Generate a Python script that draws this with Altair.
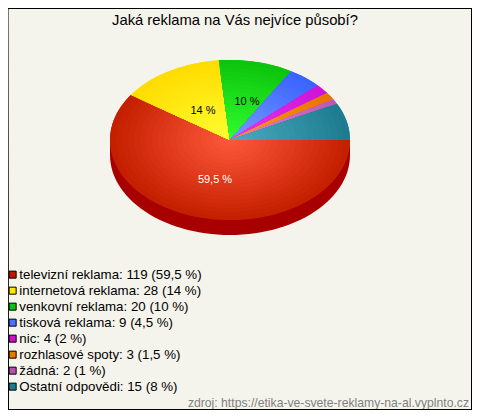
import math
import altair as alt
import pandas as pd

labels = ["televizní reklama: 119 (59,5 %)", "internetová reklama: 28 (14 %)", "venkovní reklama: 20 (10 %)",
          "tisková reklama: 9 (4,5 %)", "nic: 4 (2 %)", "rozhlasové spoty: 3 (1,5 %)", "žádná: 2 (1 %)",
          "Ostatní odpovědi: 15 (8 %)"]
counts = [119, 28, 20, 9, 4, 3, 2, 15]
legend_colors = ["#c01800", "#ffe800", "#10c010", "#4d70ff", "#cc10cc", "#e87800", "#b850b0", "#1f7a90"]
center_colors = ["#ff5a3c", "#ffff33", "#33ff33", "#7a9cff", "#f033f0", "#ff9c22", "#e088d0", "#4cacc0"]
edge_colors = ["#c42000", "#ffdc00", "#0cc40c", "#3a64ff", "#cc14d8", "#e87400", "#bc58b4", "#1e7c90"]
side_color = "#a80000"
bg = "#f5f4ec"

CX, CY, RX, RY, DEPTH = 230, 140, 120, 80, 15
RINGS = 20


def hex_mix(a, b, t):
    pa = [int(a[i:i + 2], 16) for i in (1, 3, 5)]
    pb = [int(b[i:i + 2], 16) for i in (1, 3, 5)]
    return "#%02x%02x%02x" % tuple(round(x + (y - x) * t) for x, y in zip(pa, pb))


total = sum(counts)
flat, rings = [], []
start = 0.0
for i, c in enumerate(counts):
    sweep = c / total * 2 * math.pi
    n = max(2, int(sweep / math.radians(2.5)))
    angs = [start + sweep * k / n for k in range(n + 1)]
    flat.append({"key": labels[i], "o": 0, "x": CX, "y": CY})
    for k, a in enumerate(angs):
        flat.append({"key": labels[i], "o": k + 1, "x": CX + RX * math.cos(a), "y": CY + RY * math.sin(a)})
    for r in range(RINGS, 0, -1):
        f = r / RINGS
        col = hex_mix(center_colors[i], edge_colors[i], f)
        rid = f"{i}-{RINGS - r:02d}"
        rings.append({"rid": rid, "col": col, "o": 0, "x": CX, "y": CY})
        for k, a in enumerate(angs):
            rings.append({"rid": rid, "col": col, "o": k + 1, "x": CX + RX * f * math.cos(a), "y": CY + RY * f * math.sin(a)})
    start += sweep

side = []
for k in range(0, 181, 3):
    a = math.radians(k)
    side.append({"o": k, "x": CX + RX * math.cos(a), "y": CY + RY * math.sin(a) + DEPTH})
side.append({"o": 181, "x": CX - RX, "y": CY})
side.append({"o": 182, "x": CX + RX, "y": CY})

pie_labels = pd.DataFrame({"t": ["59,5 %", "14 %", "10 %"], "x": [215, 203, 247], "y": [180, 111, 102],
                           "c": ["#ffffff", "#000000", "#000000"]})

X = alt.X("x:Q", axis=None, scale=alt.Scale(domain=[8, 472], nice=False, zero=False))
Y = alt.Y("y:Q", axis=None, scale=alt.Scale(domain=[410, 38], nice=False, zero=False))
FONT = "Liberation Sans"

side_layer = alt.Chart(pd.DataFrame(side)).mark_line(filled=True, fill=side_color, stroke=None, interpolate="linear-closed").encode(x=X, y=Y, order="o:Q")

base = alt.Chart(pd.DataFrame(flat)).mark_line(filled=True, interpolate="linear-closed").encode(
    x=X, y=Y, order="o:Q",
    color=alt.Color("key:N", sort=labels, scale=alt.Scale(domain=labels, range=legend_colors),
                    legend=alt.Legend(title=None, orient="none", legendX=-2, legendY=230, symbolType="square",
                                      symbolSize=49, symbolStrokeColor="#000000", symbolStrokeWidth=1,
                                      labelFont=FONT, labelFontSize=13.3, labelColor="#000000", labelOffset=0,
                                      rowPadding=2, labelLimit=300, values=labels)))

ring_layer = alt.Chart(pd.DataFrame(rings)).mark_line(filled=True, interpolate="linear-closed", strokeWidth=0).encode(
    x=X, y=Y, order="o:Q", detail="rid:N", color=alt.Color("col:N", scale=None))

text = alt.Chart(pie_labels).mark_text(font=FONT, fontSize=11).encode(x=X, y=Y, text="t:N", color=alt.Color("c:N", scale=None))

source = alt.Chart(pd.DataFrame({"t": ["zdroj: https://etika-ve-svete-reklamy-na-al.vyplnto.cz"], "x": [469], "y": [403]})).mark_text(
    font=FONT, fontSize=12.2, align="right", color="#808080").encode(x=X, y=Y, text="t:N")

frame = pd.DataFrame({"x": [8, 8, 471.5, 8], "x2": [472, 472, 471.5, 8.5], "y": [8.5, 409.5, 8, 8], "y2": [8.5, 409.5, 410, 410]})
border = alt.Chart(frame).mark_rule(color="#000000").encode(x=X, x2="x2:Q", y=Y, y2="y2:Q")

chart = alt.layer(side_layer, base, ring_layer, text, source, border).resolve_scale(color="independent").properties(
    width=464, height=372, background=bg, padding={"left": 0, "top": 30, "right": 0, "bottom": 0},
    autosize=alt.AutoSizeParams(type="none"),
    title=alt.TitleParams("Jaká reklama na Vás nejvíce působí?", font=FONT, fontSize=14.8, fontWeight="normal",
                          color="#000000", anchor="start", dx=106, offset=-20),
).configure_view(stroke=None)

chart.save("out.html", embed_options={"renderer": "svg", "actions": False})
